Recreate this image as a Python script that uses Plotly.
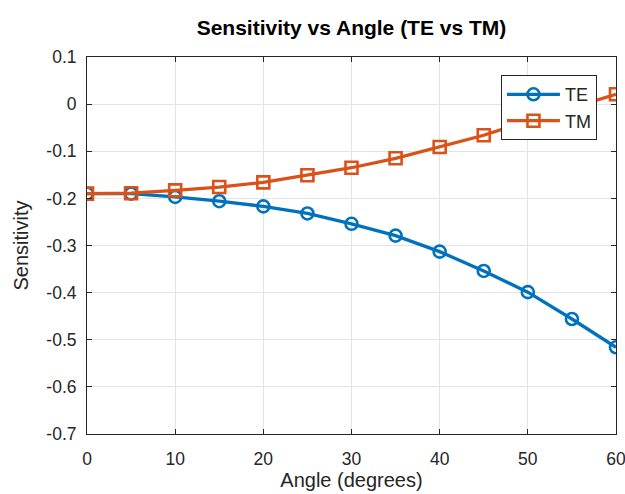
import plotly.graph_objects as go

angles = [0, 5, 10, 15, 20, 25, 30, 35, 40, 45, 50, 55, 60]
te_vals = [-0.190, -0.190, -0.197, -0.206, -0.217, -0.232, -0.254, -0.279, -0.313, -0.354, -0.399, -0.456, -0.516]
tm_vals = [-0.190, -0.189, -0.183, -0.176, -0.166, -0.151, -0.135, -0.115, -0.091, -0.066, -0.036, -0.008, 0.021]
x_ticks = [0, 10, 20, 30, 40, 50, 60]
y_ticks = [-0.7, -0.6, -0.5, -0.4, -0.3, -0.2, -0.1, 0, 0.1]
y_ticklabels = ["-0.7", "-0.6", "-0.5", "-0.4", "-0.3", "-0.2", "-0.1", "0", "0.1"]

FONT = "Liberation Sans, Arial, sans-serif"
TXT = "#262626"

fig = go.Figure()
fig.add_trace(go.Scatter(
    x=angles, y=te_vals, name="TE", mode="lines+markers",
    line=dict(color="#0072BD", width=3.3),
    marker=dict(symbol="circle-open", size=12, color="#0072BD", line=dict(width=2.6)),
))
fig.add_trace(go.Scatter(
    x=angles, y=tm_vals, name="TM", mode="lines+markers",
    line=dict(color="#D95319", width=3.3),
    marker=dict(symbol="square-open", size=12, color="#D95319", line=dict(width=2.6)),
))

axis_common = dict(
    showline=True, linecolor=TXT, linewidth=1, mirror="ticks",
    ticks="inside", ticklen=5, tickcolor=TXT,
    showgrid=True, gridcolor="#e3e3e3", gridwidth=1, zeroline=False,
    tickfont=dict(family=FONT, size=17.5, color=TXT),
    automargin=False, ticklabeloverflow="allow",
)

fig.update_xaxes(range=[0, 60], tickvals=x_ticks, ticklabelstandoff=9,
                 title=dict(text="Angle (degrees)", font=dict(family=FONT, size=20, color=TXT), standoff=4),
                 **axis_common)
fig.update_yaxes(range=[-0.7, 0.1], tickvals=y_ticks, ticktext=y_ticklabels, ticklabelstandoff=6,
                 title=dict(text="Sensitivity", font=dict(family=FONT, size=20, color=TXT), standoff=12),
                 **axis_common)

fig.update_layout(
    width=625, height=494,
    margin=dict(l=87, r=9, t=57, b=60),
    paper_bgcolor="white", plot_bgcolor="white",
    title=dict(text="<b>Sensitivity vs Angle (TE vs TM)</b>", xref="paper", x=0.5, xanchor="center",
               yref="container", y=1 - 28 / 494, yanchor="middle",
               font=dict(family=FONT, size=21, color="black")),
    legend=dict(x=0.964, xanchor="right", y=0.952, yanchor="top",
                bgcolor="white", bordercolor=TXT, borderwidth=1,
                font=dict(family=FONT, size=18, color=TXT),
                itemwidth=53),
    showlegend=True,
)

fig.write_html("out.html")
